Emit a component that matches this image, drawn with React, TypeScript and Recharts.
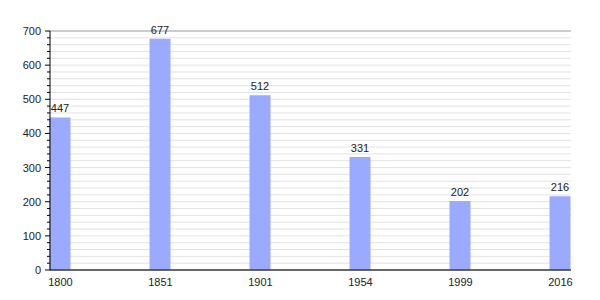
import React from 'react';
import { BarChart, Bar, XAxis, YAxis, CartesianGrid, LabelList } from 'recharts';

const years = ['1800', '1851', '1901', '1954', '1999', '2016'];
const population = [447, 677, 512, 331, 202, 216];
const minorTicks = [0, 20, 40, 60, 80, 100, 120, 140, 160, 180, 200, 220, 240, 260, 280, 300, 320, 340, 360, 380, 400, 420, 440, 460, 480, 500, 520, 540, 560, 580, 600, 620, 640, 660, 680, 700];
const majorTicks = [0, 100, 200, 300, 400, 500, 600, 700];

const data = years.map((year, i) => ({ idx: i, year, value: population[i] }));

const FONT = '"Liberation Sans", Arial, sans-serif';

const YTick = (props: any) => {
  const { x, y, payload } = props;
  const major = payload.value % 100 === 0;
  return (
    <g>
      <line x1={x - (major ? 5 : 3)} x2={x} y1={y} y2={y} stroke="#000" strokeWidth={1} />
      {major && (
        <text x={x - 9} y={y} dy={4} textAnchor="end" fontSize={11} fill="#222" fontFamily={FONT}>
          {payload.value}
        </text>
      )}
    </g>
  );
};

export default function App() {
  return (
    <div style={{ position: 'absolute', left: 0, top: 0, background: '#fff' }}>
      <BarChart width={600} height={300} data={data} margin={{ top: 31, right: 29, bottom: 10, left: 0 }}>
        <CartesianGrid vertical={false} stroke="#e2e2e2" yAxisId="minor" />
        <CartesianGrid vertical={false} stroke="#a8a8a8" yAxisId="major" />
        <XAxis
          dataKey="idx"
          type="number"
          domain={[0, 5]}
          ticks={[0, 1, 2, 3, 4, 5]}
          tickFormatter={(v: number) => years[v]}
          padding={{ left: 10.5, right: 10.5 }}
          axisLine={{ stroke: '#000' }}
          tickLine={false}
          tickMargin={2}
          height={20}
          interval={0}
          tick={{ fontSize: 11, fill: '#222', fontFamily: FONT }}
        />
        <YAxis
          yAxisId="minor"
          domain={[0, 700]}
          ticks={minorTicks}
          interval={0}
          width={50}
          tickSize={0}
          tickMargin={0}
          tickLine={false}
          axisLine={{ stroke: '#000' }}
          tick={<YTick />}
        />
        <YAxis yAxisId="major" domain={[0, 700]} ticks={majorTicks} hide width={0} />
        <Bar yAxisId="minor" dataKey="value" fill="#99aaff" barSize={21} isAnimationActive={false}>
          <LabelList dataKey="value" position="top" offset={5} fontSize={11} fill="#222" fontFamily={FONT} />
        </Bar>
      </BarChart>
    </div>
  );
}
